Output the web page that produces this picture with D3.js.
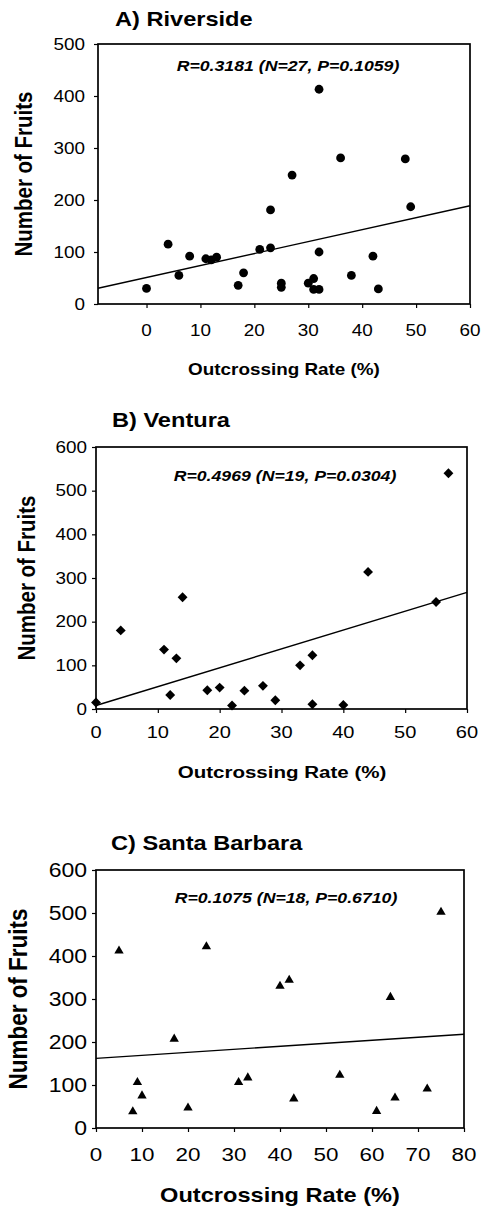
<!DOCTYPE html>
<html>
<head>
<meta charset="utf-8">
<script src="https://cdn.jsdelivr.net/npm/d3@7"></script>
<style>
  html, body { margin: 0; padding: 0; background: #fff; }
  svg { display: block; }
  text { font-family: "Liberation Sans", Arial, Helvetica, sans-serif; fill: #000; }
</style>
</head>
<body>
<svg id="chart" width="482" height="1209"></svg>
<script>
// ---------------- DATA ----------------
// A) Riverside (circles)
const riversideX = [0, 4, 6, 8, 11, 12, 13, 17, 18, 21, 23, 23, 25, 25, 27, 30, 31, 31, 32, 32, 32, 36, 38, 42, 43, 48, 49];
const riversideY = [30, 115, 55, 92, 87, 85, 90, 36, 60, 105, 108, 181, 40, 32, 248, 40, 49, 28, 28, 100, 413, 281, 55, 92, 29, 279, 187];
const riversideFit = [51, 2.3];           // intercept, slope
const riversideStat = "R=0.3181 (N=27, P=0.1059)";

// B) Ventura (diamonds)
const venturaX = [0, 4, 11, 12, 13, 14, 18, 20, 22, 24, 27, 29, 33, 35, 35, 40, 44, 55, 57];
const venturaY = [15, 180, 136, 32, 116, 256, 43, 49, 8, 42, 53, 20, 100, 123, 11, 9, 314, 245, 540];
const venturaFit = [8, 4.32];
const venturaStat = "R=0.4969 (N=19, P=0.0304)";

// C) Santa Barbara (triangles)
const sbX = [5, 8, 9, 10, 17, 20, 24, 31, 33, 40, 42, 43, 53, 61, 64, 65, 72, 75];
const sbY = [412, 38, 106, 75, 207, 47, 422, 106, 117, 330, 344, 68, 123, 39, 304, 70, 91, 502];
const sbFit = [162, 0.7];
const sbStat = "R=0.1075 (N=18, P=0.6710)";

// Tick values
const ticksAX = [0, 10, 20, 30, 40, 50, 60];
const ticksAY = [0, 100, 200, 300, 400, 500];
const ticksBX = [0, 10, 20, 30, 40, 50, 60];
const ticksBY = [0, 100, 200, 300, 400, 500, 600];
const ticksCX = [0, 10, 20, 30, 40, 50, 60, 70, 80];
const ticksCY = [0, 100, 200, 300, 400, 500, 600];

const titles = ["A) Riverside", "B) Ventura", "C) Santa Barbara"];
const xLabel = "Outcrossing Rate (%)";
const yLabel = "Number of Fruits";

// ---------------- LAYOUT ----------------
const SX = 1.18; // horizontal stretch of the lettering in the original figure
const svg = d3.select("#chart");

const panels = [
  { xs: riversideX, ys: riversideY, fit: riversideFit, stat: riversideStat, title: titles[0],
    tx: ticksAX, ty: ticksAY, xDom: [-9, 60], yDom: [0, 500], shape: "circle",
    L: 98, R: 470, T: 44, B: 304,
    titleX: 115, titleY: 26, statX: 288, statY: 71,
    yTickSize: 16, yTickRight: 85, xTickSize: 16, xTickY: 336,
    xLabSize: 16, xLabX: 284, xLabY: 375, yLabSize: 20.5, yLabX: 32, yLabY: 174 },
  { xs: venturaX, ys: venturaY, fit: venturaFit, stat: venturaStat, title: titles[1],
    tx: ticksBX, ty: ticksBY, xDom: [0, 60], yDom: [0, 600], shape: "diamond",
    L: 96, R: 467, T: 447, B: 709,
    titleX: 112, titleY: 427, statX: 285, statY: 481,
    yTickSize: 16, yTickRight: 87, xTickSize: 17, xTickY: 738,
    xLabSize: 17.4, xLabX: 282, xLabY: 778, yLabSize: 20.5, yLabX: 35, yLabY: 578 },
  { xs: sbX, ys: sbY, fit: sbFit, stat: sbStat, title: titles[2],
    tx: ticksCX, ty: ticksCY, xDom: [0, 80], yDom: [0, 600], shape: "triangle",
    L: 96, R: 464, T: 870, B: 1128,
    titleX: 111, titleY: 850, statX: 286, statY: 903,
    yTickSize: 19.5, yTickRight: 87, xTickSize: 19, xTickY: 1161,
    xLabSize: 20, xLabX: 280, xLabY: 1202, yLabSize: 22.5, yLabX: 27, yLabY: 999 }
];

function stretchedText(g, x, y, str, size, opts = {}) {
  const t = g.append("text")
    .attr("transform", `translate(${x},${y}) scale(${SX},1)` + (opts.rotate ? " rotate(-90)" : ""))
    .attr("text-anchor", opts.anchor || "start")
    .attr("font-size", size)
    .attr("font-weight", opts.bold ? "bold" : "normal")
    .attr("font-style", opts.italic ? "italic" : "normal")
    .text(str);
  if (opts.dy) t.attr("dy", opts.dy);
  return t;
}

panels.forEach(p => {
  const g = svg.append("g");
  const x = d3.scaleLinear().domain(p.xDom).range([p.L, p.R]);
  const y = d3.scaleLinear().domain(p.yDom).range([p.B, p.T]);

  // Axes (ticks only, box drawn separately)
  const ax = g.append("g").attr("transform", `translate(0,${p.B})`)
    .call(d3.axisBottom(x).tickValues(p.tx).tickSize(4).tickSizeOuter(0).tickFormat(d3.format("d")));
  ax.select(".domain").remove();
  ax.selectAll(".tick line").attr("stroke", "#000").attr("stroke-width", 1.2);
  ax.selectAll(".tick text").remove();
  p.tx.forEach(v => stretchedText(g, x(v), p.xTickY, String(v), p.xTickSize, { anchor: "middle" }));

  const ay = g.append("g").attr("transform", `translate(${p.L},0)`)
    .call(d3.axisLeft(y).tickValues(p.ty).tickSize(4).tickSizeOuter(0).tickFormat(d3.format("d")));
  ay.select(".domain").remove();
  ay.selectAll(".tick line").attr("stroke", "#000").attr("stroke-width", 1.2);
  ay.selectAll(".tick text").remove();
  p.ty.forEach(v => stretchedText(g, p.yTickRight, y(v), String(v), p.yTickSize, { anchor: "end", dy: "0.36em" }));

  // Frame
  g.append("rect")
    .attr("x", x(p.xDom[0])).attr("y", y(p.yDom[1]))
    .attr("width", x(p.xDom[1]) - x(p.xDom[0]))
    .attr("height", y(p.yDom[0]) - y(p.yDom[1]))
    .attr("fill", "none").attr("stroke", "#000").attr("stroke-width", 1.7);

  // Regression line
  const [b0, b1] = p.fit;
  g.append("line")
    .attr("x1", x(p.xDom[0])).attr("y1", y(b0 + b1 * p.xDom[0]))
    .attr("x2", x(p.xDom[1])).attr("y2", y(b0 + b1 * p.xDom[1]))
    .attr("stroke", "#000").attr("stroke-width", 1.4);

  // Points
  const data = p.xs.map((v, i) => [v, p.ys[i]]);
  let sym, size;
  if (p.shape === "circle") { sym = d3.symbolCircle; size = Math.PI * 4.4 * 4.4; }
  else if (p.shape === "diamond") { sym = d3.symbolSquare; size = 7 * 7; }
  else { sym = d3.symbolTriangle; size = 38; }
  g.append("g").selectAll("path").data(data).join("path")
    .attr("d", d3.symbol().type(sym).size(size))
    .attr("transform", d => `translate(${x(d[0])},${y(d[1])})` + (p.shape === "diamond" ? " rotate(45)" : ""))
    .attr("fill", "#000");

  // Texts
  stretchedText(g, p.titleX, p.titleY, p.title, 20, { bold: true });
  stretchedText(g, p.statX, p.statY, p.stat, 15, { bold: true, italic: true, anchor: "middle" });
  stretchedText(g, p.xLabX, p.xLabY, xLabel, p.xLabSize, { bold: true, anchor: "middle" });
  stretchedText(g, p.yLabX, p.yLabY, yLabel, p.yLabSize, { bold: true, anchor: "middle", rotate: true });
});
</script>
</body>
</html>
